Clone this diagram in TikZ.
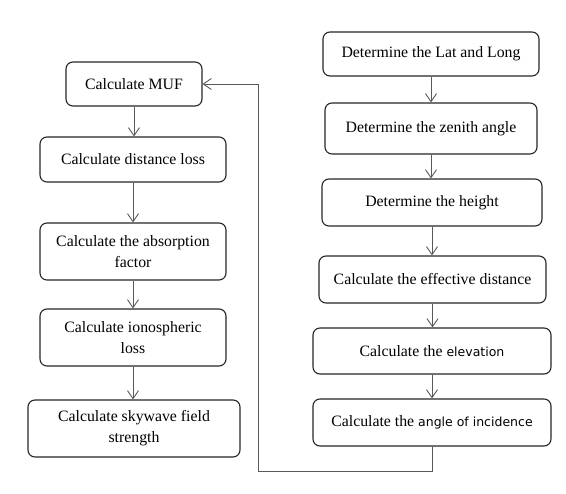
\documentclass[tikz,border=0pt]{standalone}
\usepackage{fontspec}
\setmainfont{Liberation Serif}
\newfontfamily\sanstext{DejaVu Sans}
\usepackage{tikz}
\usetikzlibrary{calc,arrows.meta}
\definecolor{boxgray}{gray}{0.15}
\definecolor{linegray}{gray}{0.35}
\newcommand{\figunit}{1pt}
\newcommand{\flowbox}[6]{
	\node[stepbox, minimum width=#5, minimum height=#6] (#1) at (#2,#3) {#4};
}
\tikzset{
	stepbox/.style={draw=boxgray, line width=1.1pt, rounded corners=7pt, align=center, inner sep=2pt, font=\fontsize{15.8}{21}\selectfont},
	arr/.style={draw=linegray, line width=0.9pt, -{Straight Barb[length=8pt,width=11pt]}}
}
\begin{document}
\begin{tikzpicture}[x=\figunit,y=-\figunit]
	\useasboundingbox (0,0) rectangle (566,494);

	\flowbox{muf}{134}{84}{Calculate MUF}{136pt}{44pt}
	\flowbox{dist}{133}{159.5}{Calculate distance loss}{186pt}{45pt}
	\flowbox{absorb}{133}{251.5}{Calculate the absorption\\factor}{186pt}{57pt}
	\flowbox{iono}{133}{337.5}{Calculate ionospheric\\loss}{186pt}{57pt}
	\flowbox{sky}{134}{428.5}{Calculate skywave field\\strength}{212pt}{57pt}

	\flowbox{latlong}{431}{54}{Determine the Lat and Long}{216pt}{44pt}
	\flowbox{zenith}{431}{128.5}{Determine the zenith angle}{212pt}{51pt}
	\flowbox{height}{432}{202.5}{Determine the height}{220pt}{47pt}
	\flowbox{effdist}{432.5}{279.5}{Calculate the effective distance}{227pt}{47pt}
	\flowbox{elev}{432}{351}{Calculate the {\sanstext\fontsize{12.5}{21}\selectfont elevation}}{238pt}{46pt}
	\flowbox{incid}{432}{422.5}{Calculate the {\sanstext\fontsize{12.5}{21}\selectfont angle of incidence}}{238pt}{47pt}

	\coordinate (loopcorner) at (258,471);

	\draw[arr] (muf.south) -- (muf.south |- dist.north);
	\draw[arr] (dist.south) -- (dist.south |- absorb.north);
	\draw[arr] (absorb.south) -- (absorb.south |- iono.north);
	\draw[arr] (iono.south) -- (iono.south |- sky.north);

	\draw[arr] (latlong.south) -- (latlong.south |- zenith.north);
	\draw[arr] (zenith.south) -- (zenith.south |- height.north);
	\draw[arr] (height.south) -- (height.south |- effdist.north);
	\draw[arr] (effdist.south) -- (effdist.south |- elev.north);
	\draw[arr] (elev.south) -- (elev.south |- incid.north);

	\draw[arr] (incid.south) |- (loopcorner) |- (muf.east);
\end{tikzpicture}
\end{document}
